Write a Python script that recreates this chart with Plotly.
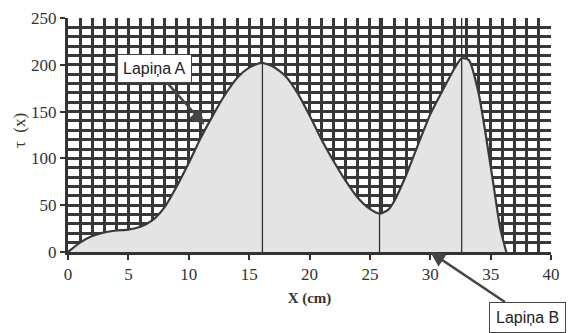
import plotly.graph_objects as go

# Curve data (X in cm, tau(x))
x_vals = [0, 1, 2, 3, 4, 5, 6, 7, 8, 9, 10, 11, 12, 13, 14, 15, 16, 17, 18, 19, 20,
          21, 22, 23, 24, 25, 25.8, 26.5, 27, 28, 29, 30, 31, 32, 32.6, 33.2, 34, 34.6, 35.2, 35.8, 36.3]
tau_vals = [0, 10, 17, 21, 23, 24, 27, 34, 48, 70, 95, 122, 146, 168, 186, 197, 202, 198, 188, 170, 146,
            120, 97, 76, 58, 46, 41, 45, 54, 82, 115, 147, 172, 196, 207, 205, 170, 125, 75, 25, 0]

# Vertical marker lines (peak A, minimum, peak B)
vline_x = [16.1, 25.8, 32.6]
vline_top = [250, 250, 250]

x_ticks = [0, 5, 10, 15, 20, 25, 30, 35, 40]
y_ticks = [0, 50, 100, 150, 200, 250]

label_a = "Lapiņa A"
label_b = "Lapiņa B"

fig = go.Figure()
fig.add_trace(go.Scatter(x=x_vals, y=tau_vals, mode="lines", fill="tozeroy",
                         fillcolor="#e4e4e4", line=dict(color="#3a3a3a", width=2.2, shape="spline", smoothing=0.6),
                         hoverinfo="skip", showlegend=False))
for xv, top in zip(vline_x, vline_top):
    fig.add_trace(go.Scatter(x=[xv, xv], y=[0, top], mode="lines",
                             line=dict(color="#333333", width=1.3), showlegend=False, hoverinfo="skip"))

serif = "Liberation Serif"
narrow = "Liberation Sans Narrow, Liberation Sans"

fig.update_layout(
    width=569, height=333,
    margin=dict(l=68, r=9, t=13, b=81),
    paper_bgcolor="white", plot_bgcolor="white",
    font=dict(family=serif, color="#333"),
    xaxis=dict(range=[0, 40], showgrid=True, gridcolor="#383838", gridwidth=3,
               tickmode="array", tickvals=x_ticks, ticktext=[str(t) for t in x_ticks],
               ticks="outside", ticklen=5, tickwidth=2, tickcolor="#333",
               showline=True, linecolor="#333", linewidth=3, zeroline=False,
               tickfont=dict(family=serif, size=17, color="#333"),
               title=dict(text="<b>X (cm)</b>", font=dict(family=serif, size=15, color="#333"), standoff=10)),
    yaxis=dict(range=[0, 250], showgrid=True, gridcolor="#383838", gridwidth=3,
               tickmode="array", tickvals=y_ticks, ticktext=[str(t) for t in y_ticks],
               ticks="outside", ticklen=5, tickwidth=2, tickcolor="#333",
               showline=True, linecolor="#333", linewidth=3, zeroline=False,
               tickfont=dict(family=serif, size=17, color="#333")),
)
fig.update_yaxes(minor=dict(dtick=10, showgrid=True, gridcolor="#383838", gridwidth=3, ticks=""))
fig.update_xaxes(minor=dict(dtick=1, showgrid=True, gridcolor="#383838", gridwidth=3, ticks=""))

fig.add_annotation(x=11.3, y=136, xref="x", yref="y", text=label_a, showarrow=True,
                   ax=-50, ay=-56, axref="pixel", ayref="pixel",
                   arrowhead=2, arrowsize=1.2, arrowwidth=2.5, arrowcolor="#444",
                   font=dict(family=narrow, size=16, color="#222"),
                   bgcolor="white", bordercolor="#444", borderwidth=1, borderpad=5)
fig.add_annotation(x=30.0, y=0, xref="x", yref="y", text=label_b, showarrow=True,
                   ax=97, ay=65, axref="pixel", ayref="pixel",
                   arrowhead=2, arrowsize=1.2, arrowwidth=2.5, arrowcolor="#444",
                   font=dict(family=narrow, size=16, color="#222"),
                   bgcolor="white", bordercolor="#444", borderwidth=1, borderpad=6)
fig.add_annotation(x=-0.1, y=130, xref="paper", yref="y", xanchor="center", yanchor="middle",
                   text="τ  (x)", textangle=-90, showarrow=False,
                   font=dict(family=serif, size=17, color="#333"))

fig.write_html("out.html")
